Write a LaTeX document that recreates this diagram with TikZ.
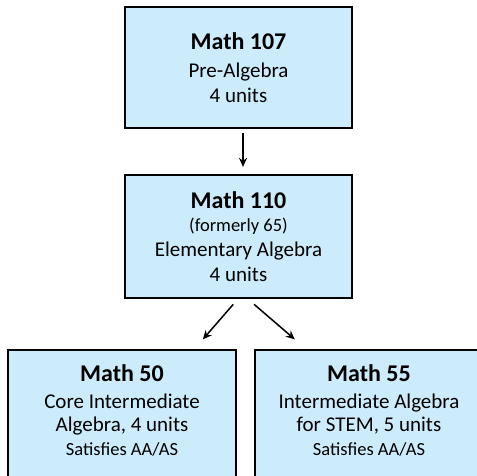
\documentclass[tikz,border=0pt]{standalone}
\usepackage{fontspec}
\setmainfont{Carlito}
\usetikzlibrary{arrows.meta}
\definecolor{boxblue}{RGB}{204,236,252}
\newcommand{\ctitle}{\fontsize{24}{25}\selectfont\bfseries}
\newcommand{\cbody}{\fontsize{21}{25}\selectfont}
\newcommand{\cnote}{\fontsize{18.5}{25}\selectfont}

\begin{document}
\begin{tikzpicture}[x=1pt,y=-1pt,
    course/.style={draw=black,line width=2.2pt,fill=boxblue,align=center,inner sep=0pt,font=\cbody},
    prereq/.style={-{Stealth[length=9pt,width=8pt]},line width=1.5pt}]
  \useasboundingbox (0,0) rectangle (477,476);
  \clip (0,0) rectangle (477,476);
  % pre-algebra
  \node[course,minimum width=227pt,minimum height=121pt] (m107) at (238.5,67.5)
    {\ctitle Math 107\\[3.6pt] Pre-Algebra\\ 4 units};
  % elementary algebra
  \node[course,minimum width=227pt,minimum height=123pt] (m110) at (238.5,236.5)
    {\ctitle Math 110\\[-1.7pt] \cnote (formerly 65)\\ Elementary Algebra\\ 4 units};
  % intermediate algebra, both tracks
  \node[course,anchor=north,minimum width=228pt,inner ysep=15pt] (m50) at (122,349)
    {\ctitle Math 50\\[1.5pt] Core Intermediate\\[-1.5pt] Algebra, 4 units\\[-1.7pt]
     \cnote Satisfies AA/AS\rule[-40pt]{0pt}{40pt}};
  \node[course,anchor=north,minimum width=228pt,inner ysep=15pt] (m55) at (369,349)
    {\ctitle Math 55\\[1.5pt] Intermediate Algebra\\[-1.5pt] for STEM, 5 units\\[-1.7pt]
     \cnote Satisfies AA/AS\rule[-40pt]{0pt}{40pt}};
  % arrows
  \draw[prereq,shorten <=4pt,shorten >=7pt] ([xshift=4.5pt]m107.south) -- ([xshift=4.5pt]m110.north);
  \draw[prereq,shorten <=7pt,shorten >=12.7pt] ([xshift=-0.7pt]m110.south) -- ([xshift=72.5pt]m50.north);
  \draw[prereq,shorten <=8pt,shorten >=14.7pt] ([xshift=9.5pt]m110.south) -- ([xshift=-63pt]m55.north);
\end{tikzpicture}
\end{document}
